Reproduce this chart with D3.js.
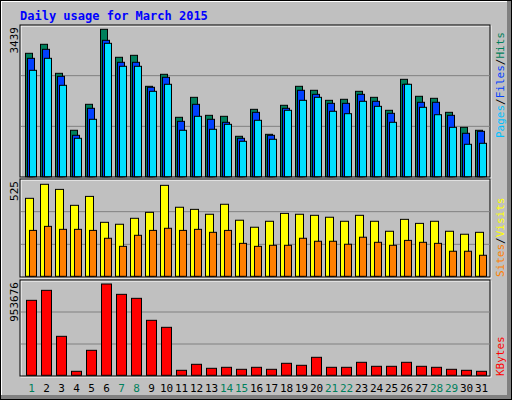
<!DOCTYPE html>
<html>
<head>
<style>body{margin:0;background:#fff}</style>
</head>
<body>
<svg width="512" height="400"></svg>
<script src="https://d3js.org/d3.v7.min.js"></script>
<script>
var days = d3.range(1, 32);
var weekends = [1, 7, 8, 14, 15, 21, 22, 28, 29];
var hits = [2879,3089,2412,1083,1689,3439,2786,2832,2109,2389,1386,1852,1432,1409,943,1572,989,1666,2109,2016,1782,1806,1992,1852,1549,2272,1876,1829,1502,1152,1083];
var files = [2762,2972,2342,966,1596,3182,2669,2669,2086,2319,1292,1689,1339,1269,896,1502,966,1596,2016,1922,1712,1712,1922,1759,1479,2156,1736,1736,1432,1013,1059];
var pages = [2482,2762,2132,896,1339,3112,2576,2576,1992,2156,1083,1409,1106,1222,826,1316,873,1549,1782,1852,1526,1470,1759,1642,1269,2156,1619,1446,1152,756,779];
var visits = [445,525,496,405,456,308,297,331,365,519,394,382,354,411,320,280,314,359,354,348,337,314,348,314,257,325,302,314,257,240,251];
var sites = [262,285,268,268,262,217,171,234,262,274,262,268,251,262,188,171,177,177,217,200,200,183,223,194,177,205,194,188,143,143,120];
var kbytes = [783135,887553,407230,41767,261045,953676,845786,804019,574299,501206,52209,114860,73093,83534,62651,83534,62651,125302,104418,187952,83534,83534,135744,93976,93976,135744,93976,83534,62651,52209,41767];

var svg = d3.select("svg");
svg.append("rect").attr("width", 512).attr("height", 400).attr("fill", "#000");
svg.append("rect").attr("x", 1).attr("y", 1).attr("width", 510).attr("height", 398).attr("fill", "#808080");
svg.append("rect").attr("x", 1).attr("y", 1).attr("width", 506).attr("height", 394).attr("fill", "#fff");
svg.append("rect").attr("x", 2).attr("y", 2).attr("width", 505).attr("height", 393).attr("fill", "#c0c0c0");

svg.append("text").attr("x", 20).attr("y", 20)
  .attr("font-family", "DejaVu Sans Mono").attr("font-weight", "bold").attr("font-size", 12)
  .attr("fill", "#0000ff").text("Daily usage for March 2015");

var x = d3.scaleBand().domain(days).range([25, 490]);

var panels = [
  { top: 25, bottom: 177, max: 3439, label: "3439" },
  { top: 179, bottom: 277, max: 525, label: "525" },
  { top: 280, bottom: 376, max: 953676, label: "953676" }
];

panels.forEach(function (p, i) {
  svg.append("rect").attr("x", 21).attr("y", p.top + 1).attr("width", 470).attr("height", p.bottom - p.top)
    .attr("fill", "none").attr("stroke", "#fff");
  svg.append("rect").attr("x", 20).attr("y", p.top).attr("width", 470).attr("height", p.bottom - p.top)
    .attr("fill", "none").attr("stroke", "#000");
  var h = p.bottom - p.top;
  [1, 2].forEach(function (k) {
    svg.append("line").attr("x1", 21).attr("x2", 490)
      .attr("y1", p.top + h * k / 3).attr("y2", p.top + h * k / 3)
      .attr("stroke", "#808080");
  });
  svg.append("text").attr("transform", "translate(18," + (p.top + 2) + ") rotate(-90)")
    .attr("text-anchor", "end").attr("font-family", "DejaVu Sans Mono").attr("font-size", 11)
    .attr("fill", "#000").text(p.label);
});

var yTop = d3.scaleLinear().domain([0, 3439]).range([176.7, 29.3]);
var yMid = d3.scaleLinear().domain([0, 525]).range([276.3, 184.3]);
var yBot = d3.scaleLinear().domain([0, 953676]).range([375.3, 284]);

function bars(data, y, off, w, color) {
  svg.append("g").selectAll("rect").data(data).enter().append("rect")
    .attr("x", function (d, i) { return x(days[i]) + off; })
    .attr("y", function (d) { return y(d); })
    .attr("width", w)
    .attr("height", function (d) { return y(0) - y(d); })
    .attr("fill", color).attr("stroke", "#000");
}
bars(hits, yTop, 0.5, 7, "#00805c");
bars(files, yTop, 2.5, 7, "#0040ff");
bars(pages, yTop, 4.5, 7, "#00e0ff");
bars(visits, yMid, 0.5, 8, "#ffff00");
bars(sites, yMid, 4.5, 7, "#ff8000");
bars(kbytes, yBot, 1.5, 10, "#ff0000");

svg.append("g").selectAll("text").data(days).enter().append("text")
  .attr("x", function (d) { return x(d) + 6.5; }).attr("y", 392)
  .attr("text-anchor", "middle").attr("font-family", "DejaVu Sans Mono").attr("font-size", 11)
  .attr("fill", function (d) { return weekends.indexOf(d) >= 0 ? "#00805c" : "#000"; })
  .text(function (d) { return d; });

function sideLabel(y, parts) {
  var t = svg.append("text").attr("transform", "translate(504," + y + ") rotate(-90)")
    .attr("text-anchor", "start").attr("font-family", "DejaVu Sans Mono").attr("font-size", 11);
  parts.forEach(function (p) { t.append("tspan").attr("fill", p[1]).text(p[0]); });
}
sideLabel(138, [["Pages", "#00c0ff"], ["/", "#000"], ["Files", "#0040ff"], ["/", "#000"], ["Hits", "#00805c"]]);
sideLabel(277, [["Sites", "#ff8000"], ["/", "#000"], ["Visits", "#ffff00"]]);
sideLabel(376, [["KBytes", "#ff0000"]]);
</script>
</body>
</html>
